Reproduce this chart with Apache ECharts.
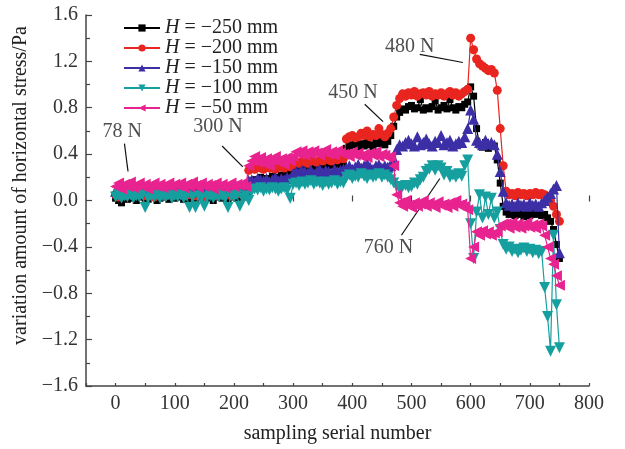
<!DOCTYPE html>
<html><head><meta charset="utf-8">
<script src="https://cdn.jsdelivr.net/npm/echarts@6/dist/echarts.min.js"></script>
<style>html,body{margin:0;padding:0;background:#fff}#c{width:625px;height:449px}</style>
</head><body><div id="c"></div>
<script>
// sampling serial numbers: 0, 5, 10, ... 750
const xs = [];
for (let v = 0; v <= 750; v += 5) xs.push(v);

const yH250 = [
  0.02,0.0,-0.02,0.03,0.01,0.04,0.02,0.0,0.03,0.05,0.02,0.01,0.04,0.03,0.0,
  0.02,0.05,0.03,0.01,0.04,0.02,0.03,0.05,0.01,0.03,0.0,0.04,0.02,0.05,0.03,
  0.01,0.04,0.02,0.0,0.03,0.05,0.02,0.04,0.01,0.03,0.05,0.02,0.04,0.03,0.05,
  0.15,0.17,0.18,0.16,0.2,0.17,0.19,0.18,0.21,0.19,0.2,0.22,0.21,0.23,0.24,
  0.28,0.27,0.3,0.29,0.28,0.31,0.3,0.29,0.31,0.3,0.32,0.29,0.31,0.3,0.33,0.31,0.32,0.3,
  0.45,0.47,0.48,0.5,0.46,0.49,0.47,0.5,0.48,0.46,0.5,0.49,0.52,0.48,0.51,
  0.56,0.64,0.72,
  0.76,0.79,0.78,0.81,0.82,0.79,0.8,0.87,0.78,0.8,0.79,0.81,0.86,0.78,0.8,0.82,0.79,0.87,0.8,0.78,0.81,0.8,0.83,0.85,
  0.98,0.9,
  0.62,0.48,0.46,0.5,0.45,0.48,0.47,
  0.35,0.15,-0.05,
  -0.1,-0.12,-0.11,-0.13,-0.1,-0.12,-0.14,-0.11,-0.13,-0.1,-0.12,-0.11,-0.13,
  -0.12,-0.15,-0.18,-0.25,-0.38,-0.5];

const yH200 = [
  0.05,0.03,0.06,0.04,0.07,0.05,0.04,0.06,0.05,0.07,0.04,0.06,0.05,0.03,0.06,
  0.05,0.07,0.04,0.06,0.05,0.07,0.06,0.05,0.04,0.06,0.05,0.07,0.04,0.06,0.05,
  0.03,0.06,0.05,0.07,0.04,0.06,0.05,0.07,0.06,0.04,0.05,0.07,0.06,0.05,0.06,
  0.26,0.28,0.27,0.29,0.28,0.27,0.3,0.28,0.29,0.27,0.3,0.29,0.28,0.3,0.29,
  0.31,0.33,0.32,0.34,0.33,0.32,0.35,0.34,0.33,0.35,0.34,0.36,0.35,0.34,0.36,0.35,0.37,0.36,
  0.53,0.55,0.56,0.54,0.55,0.58,0.56,0.6,0.55,0.57,0.56,0.62,0.57,0.55,0.58,
  0.62,0.72,0.82,
  0.88,0.92,0.9,0.93,0.91,0.94,0.9,0.92,0.93,0.91,0.94,0.9,0.92,0.91,0.93,0.9,0.92,0.94,0.91,0.93,0.9,0.92,0.94,0.96,
  1.4,1.3,
  1.22,1.18,1.16,1.14,1.12,1.13,1.1,
  0.95,0.62,0.3,
  0.08,0.05,0.06,0.04,0.07,0.05,0.06,0.04,0.06,0.05,0.07,0.05,0.06,
  0.05,0.03,0.0,-0.05,-0.12,-0.18];

const yH150 = [
  0.08,0.1,0.07,0.09,0.11,0.08,0.1,0.09,0.12,0.08,0.1,0.09,0.11,0.1,0.08,
  0.1,0.12,0.09,0.1,0.08,0.11,0.1,0.09,0.08,0.1,0.12,0.09,0.11,0.08,0.1,
  0.09,0.11,0.1,0.08,0.12,0.09,0.1,0.11,0.08,0.1,0.09,0.12,0.1,0.11,0.09,
  0.17,0.18,0.16,0.19,0.18,0.17,0.19,0.16,0.18,0.2,0.17,0.19,0.18,0.2,0.19,
  0.23,0.25,0.24,0.26,0.25,0.24,0.26,0.23,0.25,0.27,0.24,0.26,0.25,0.24,0.27,0.25,0.26,0.27,
  0.28,0.3,0.27,0.29,0.31,0.28,0.3,0.32,0.29,0.27,0.3,0.31,0.28,0.3,0.29,
  0.3,0.36,0.44,
  0.48,0.47,0.5,0.52,0.49,0.47,0.55,0.48,0.5,0.53,0.49,0.47,0.51,0.5,0.56,0.48,0.5,0.52,0.47,0.49,0.51,0.5,0.55,0.62,
  0.78,0.7,
  0.52,0.5,0.48,0.52,0.49,0.5,0.48,
  0.4,0.25,0.08,
  -0.02,-0.04,-0.03,-0.05,-0.02,-0.04,-0.03,-0.05,-0.02,-0.04,-0.03,-0.05,-0.02,
  0.0,0.03,0.06,0.1,0.13,-0.45];

const yH100 = [
  0.03,0.05,0.02,0.04,0.03,0.05,0.02,0.04,0.03,0.05,-0.06,0.02,0.04,0.03,0.05,
  0.02,0.04,0.03,0.05,0.02,0.04,0.03,0.05,0.02,0.04,-0.06,0.03,-0.06,0.04,0.02,
  -0.05,0.03,0.04,0.02,0.05,0.03,0.04,0.02,-0.06,0.04,0.03,0.05,-0.05,0.02,0.04,
  0.0,0.08,0.1,0.09,0.11,0.08,0.1,0.09,0.11,0.1,0.08,0.1,0.11,0.09,0.02,
  0.14,0.15,0.13,0.16,0.14,0.15,0.17,0.14,0.16,0.15,0.13,0.16,0.14,0.15,0.17,0.14,0.16,0.15,
  0.2,0.22,0.19,0.21,0.2,0.23,0.21,0.19,0.22,0.2,0.21,0.23,0.2,0.22,0.2,
  0.18,0.15,0.12,
  0.1,0.12,0.13,0.11,0.12,0.15,0.14,0.18,0.2,0.25,0.27,0.3,0.26,0.3,0.28,0.22,0.25,0.2,0.22,0.2,0.23,0.21,0.3,0.35,
  -0.2,-0.5,
  -0.1,0.05,-0.15,0.03,-0.12,0.02,-0.15,
  -0.1,-0.25,-0.38,
  -0.42,-0.4,-0.44,-0.42,-0.45,-0.43,-0.41,-0.44,-0.42,-0.45,-0.43,-0.46,-0.44,
  -0.75,-1.0,-1.3,-0.3,-0.9,-1.27];

const yH50 = [
  0.12,0.15,0.1,0.14,0.12,0.16,0.11,0.13,0.15,0.12,0.14,0.1,0.13,0.15,0.12,
  0.14,0.11,0.13,0.15,0.12,0.14,0.13,0.15,0.11,0.14,0.12,0.16,0.13,0.11,0.15,
  0.12,0.14,0.13,0.1,0.15,0.12,0.14,0.11,0.13,0.15,0.12,0.14,0.13,0.15,0.12,
  0.3,0.34,0.38,0.33,0.37,0.32,0.36,0.3,0.35,0.38,0.33,0.36,0.31,0.37,0.34,
  0.38,0.42,0.4,0.43,0.39,0.42,0.4,0.43,0.41,0.39,0.42,0.44,0.4,0.42,0.39,0.43,0.41,0.4,
  0.4,0.38,0.42,0.39,0.41,0.38,0.4,0.37,0.41,0.39,0.42,0.38,0.4,0.39,0.37,
  0.38,0.3,0.05,
  -0.02,-0.05,0.0,-0.04,-0.06,-0.02,-0.05,-0.03,0.0,-0.05,-0.02,-0.04,-0.06,-0.01,-0.04,-0.03,-0.06,-0.02,-0.05,0.0,-0.04,-0.03,-0.05,-0.08,
  -0.5,-0.4,
  -0.27,-0.3,-0.26,-0.29,-0.27,-0.3,-0.28,
  -0.27,-0.22,-0.2,
  -0.2,-0.24,-0.19,-0.23,-0.2,-0.24,-0.22,-0.19,-0.23,-0.21,-0.24,-0.2,-0.22,
  -0.3,-0.4,-0.5,-0.55,-0.65,-0.73];

const seriesNames = ['H = \u2212250 mm','H = \u2212200 mm','H = \u2212150 mm','H = \u2212100 mm','H = \u221250 mm'];
const seriesValues = [yH250, yH200, yH150, yH100, yH50];

// annotations (data coordinates)
const annoText = ['78 N','300 N','450 N','480 N','760 N'];
const annoTextPos = [[11,0.59],[173,0.64],[401,0.93],[497,1.33],[461,-0.41]];
const annoArrowFrom = [[15,0.49],[180,0.47],[421,0.83],[514,1.26],[483,-0.3]];
const annoArrowTo = [[21,0.25],[215,0.29],[452,0.68],[587,1.19],[548,0.19]];

const xTicks = {min:-50, max:800};
const yTicks = {min:-1.6, max:1.6, interval:0.4};

const colors = ['#000000','#e8251f','#3c2fa6','#169f9f','#e8238f'];
const symbols = ['rect','circle','triangle','triangle','triangle'];
const rotations = [0,0,0,180,90];
const sizes = [7,9,11,11,11];

const FONT = '"Liberation Serif","Times New Roman",serif';
const chart = echarts.init(document.getElementById('c'), null, {renderer:'canvas'});

const series = seriesValues.map((ys,k)=>({
  name: seriesNames[k], type:'line', xAxisIndex:0, yAxisIndex:0,
  data: xs.map((x,i)=>[x, ys[i]]),
  symbol: symbols[k], symbolRotate: rotations[k], symbolSize: sizes[k],
  showAllSymbol: true,
  itemStyle:{color:colors[k]}, lineStyle:{color:colors[k], width:1.2},
  emphasis:{disabled:true}, z: 2+k
}));

// annotation series
series.push({
  type:'scatter', xAxisIndex:0, yAxisIndex:0, symbolSize:0, silent:true,
  data: annoTextPos.map((p,i)=>({value:p, label:{show:true, formatter:annoText[i], position:'inside',
    fontFamily:FONT, fontSize:20, color:'#222'}})),
  markLine:{ silent:true, symbol:['none','arrow'], symbolSize:[0,9],
    lineStyle:{color:'#111', width:1.2, type:'solid'}, label:{show:false},
    data: annoArrowFrom.map((p,i)=>[{coord:p},{coord:annoArrowTo[i]}]) },
  z: 10
});

const plotW = 503, plotL = 86;
const pxPerUnit = plotW/(xTicks.max-xTicks.min);

chart.setOption({
  animation:false,
  backgroundColor:'#fff',
  grid:[{left:plotL, top:15, width:plotW, height:373},
        {left:plotL + (0 - xTicks.min)*pxPerUnit, top:15, width:(xTicks.max-0)*pxPerUnit, height:373}],
  legend:{
    orient:'vertical', left:118, top:13, itemWidth:36, itemHeight:9, itemGap:0,
    data: seriesNames,
    textStyle:{fontFamily:FONT, fontSize:20, color:'#222', lineHeight:18,
      rich:{i:{fontStyle:'italic', fontFamily:FONT, fontSize:20, lineHeight:18, color:'#222'}}},
    formatter: n => '{i|H}' + n.slice(1)
  },
  xAxis:[{
    type:'value', gridIndex:0, min:xTicks.min, max:xTicks.max, interval:50,
    name:'sampling serial number', nameLocation:'middle', nameGap:38,
    nameTextStyle:{fontFamily:FONT, fontSize:20, color:'#222'},
    axisLine:{show:true, onZero:false, lineStyle:{color:'#444', width:1.5}},
    axisTick:{show:true, inside:true, length:3, lineStyle:{color:'#444', width:1.2}},
    axisLabel:{fontFamily:FONT, fontSize:20, color:'#333', margin:8,
      formatter: v => (Math.round(v) % 100 === 0 ? String(v) : '')},
    splitLine:{show:false}
  },{
    type:'value', gridIndex:1, min:0, max:xTicks.max, interval:100,
    axisLine:{show:false}, axisTick:{show:true, inside:true, length:6, lineStyle:{color:'#444', width:1.2}},
    axisLabel:{show:false}, splitLine:{show:false}
  }],
  yAxis:[{
    type:'value', gridIndex:0, min:yTicks.min, max:yTicks.max, interval:yTicks.interval,
    name:'variation amount of horizontal stress/Pa', nameLocation:'middle', nameGap:50,
    nameTextStyle:{fontFamily:FONT, fontSize:20, color:'#222', padding:[0,0,0,30]},
    axisLine:{show:true, onZero:false, lineStyle:{color:'#444', width:1.5}},
    axisTick:{show:true, inside:true, length:6, lineStyle:{color:'#444', width:1.2}},
    minorTick:{show:true, splitNumber:2, length:4, lineStyle:{color:'#444', width:1.2}},
    axisLabel:{fontFamily:FONT, fontSize:20, color:'#333', margin:8,
      formatter: v => { const r = Math.round(v*10)/10; return (r<0?'\u2212':'') + Math.abs(r).toFixed(1); }},
    splitLine:{show:false}
  },{
    type:'value', gridIndex:1, show:false, min:yTicks.min, max:yTicks.max
  }],
  series: series
});
</script></body></html>
